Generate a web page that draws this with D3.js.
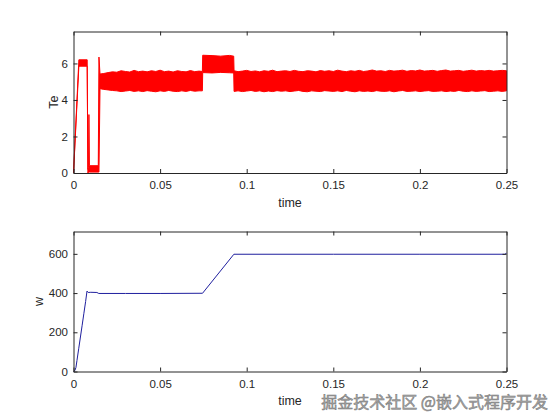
<!DOCTYPE html>
<html>
<head>
<meta charset="utf-8">
<script src="https://cdn.jsdelivr.net/npm/d3@7"></script>
<style>
  body { margin: 0; background: #fff; }
  text { font-family: "Liberation Sans", Arial, Helvetica, sans-serif; fill: #262626; }
</style>
</head>
<body>
<div id="main"></div>
<script>
'use strict';

// ---- data ----
var xTicks = [0, 0.05, 0.1, 0.15, 0.2, 0.25];
var teTicks = [0, 2, 4, 6];
var wTicks = [0, 200, 400, 600];

// Te: the red trace is a dense noisy band, kept as low / high envelope
var teTime = [0, 0.0031, 0.0079, 0.0083, 0.0087, 0.0089, 0.0092, 0.0143, 0.0147, 0.0153,
  0.0175, 0.02, 0.0225, 0.025, 0.0275, 0.03, 0.0325, 0.035, 0.0375, 0.04, 0.0425, 0.045,
  0.0475, 0.05, 0.0525, 0.055, 0.0575, 0.06, 0.0625, 0.065, 0.0675, 0.07, 0.0725, 0.0744,
  0.0746, 0.08, 0.085, 0.09, 0.0925,
  0.0927, 0.095, 0.0975, 0.1, 0.1025, 0.105, 0.1075, 0.11, 0.1125, 0.115, 0.1175, 0.12,
  0.1225, 0.125, 0.1275, 0.13, 0.1325, 0.135, 0.1375, 0.14, 0.1425, 0.145, 0.1475, 0.15,
  0.1525, 0.155, 0.1575, 0.16, 0.1625, 0.165, 0.1675, 0.17, 0.1725, 0.175, 0.1775, 0.18,
  0.1825, 0.185, 0.1875, 0.19, 0.1925, 0.195, 0.1975, 0.2, 0.2025, 0.205, 0.2075, 0.21,
  0.2125, 0.215, 0.2175, 0.22, 0.2225, 0.225, 0.2275, 0.23, 0.2325, 0.235, 0.2375, 0.24,
  0.2425, 0.245, 0.2475, 0.25];
var teLow = [0, 5.85, 5.85, 0, 0.05, 0.05, 0.05, 0.05, 0.05, 4.62,
  4.58, 4.55, 4.52, 4.5, 4.46, 4.49, 4.52, 4.47, 4.5, 4.46, 4.51, 4.48,
  4.45, 4.5, 4.47, 4.52, 4.48, 4.46, 4.5, 4.47, 4.52, 4.48, 4.5, 4.5,
  5.5, 5.48, 5.51, 5.49, 5.48,
  4.47, 4.5, 4.46, 4.49, 4.52, 4.47, 4.5, 4.45, 4.49, 4.46, 4.51, 4.48,
  4.5, 4.46, 4.49, 4.52, 4.47, 4.45, 4.5, 4.48, 4.46, 4.51, 4.49, 4.47,
  4.5, 4.46, 4.52, 4.48, 4.45, 4.5, 4.47, 4.49, 4.46, 4.51, 4.48, 4.47,
  4.5, 4.45, 4.49, 4.52, 4.47, 4.48, 4.5, 4.46, 4.49, 4.51, 4.47, 4.48,
  4.5, 4.46, 4.49, 4.47, 4.52, 4.48, 4.46, 4.5, 4.47, 4.49, 4.51, 4.46,
  4.48, 4.5, 4.47, 4.5];
var teHigh = [0, 6.2, 6.2, 0.2, 0.3, 3.2, 0.4, 0.4, 6.35, 5.42,
  5.45, 5.5, 5.54, 5.52, 5.6, 5.56, 5.53, 5.62, 5.55, 5.58, 5.54, 5.6,
  5.56, 5.63, 5.55, 5.58, 5.53, 5.6, 5.56, 5.54, 5.61, 5.55, 5.58, 5.56,
  6.45, 6.43, 6.4, 6.44, 6.4,
  5.6, 5.55, 5.58, 5.62, 5.56, 5.59, 5.54, 5.6, 5.57, 5.63, 5.55, 5.58,
  5.6, 5.56, 5.62, 5.57, 5.55, 5.6, 5.58, 5.54, 5.61, 5.57, 5.6, 5.56,
  5.63, 5.58, 5.55, 5.6, 5.57, 5.62, 5.56, 5.59, 5.64, 5.58, 5.6, 5.56,
  5.62, 5.58, 5.6, 5.63, 5.57, 5.61, 5.59, 5.64, 5.58, 5.6, 5.62, 5.57,
  5.61, 5.64, 5.58, 5.6, 5.62, 5.57, 5.6, 5.63, 5.58, 5.61, 5.59, 5.62,
  5.58, 5.6, 5.62, 5.6];

// w: speed trace
var wTime = [0, 0.0008, 0.0014, 0.002, 0.003, 0.004, 0.005, 0.006, 0.007, 0.0078,
  0.0085, 0.01, 0.0135, 0.0146, 0.03, 0.05, 0.0745, 0.0926, 0.15, 0.2, 0.249, 0.25];
var wVal = [0, 5, 20, 56, 116, 176, 236, 297, 357, 410,
  403, 404, 403, 398, 398, 398, 399, 598, 598, 598, 598, 603];

// ---- layout ----
var W = 560, H = 420;
var left = 73.5, right = 506.5;
var top1 = 31.5, bot1 = 173;
var top2 = 231.5, bot2 = 371.5;

var svg = d3.select('#main').append('svg')
  .attr('width', W).attr('height', H);
svg.append('rect').attr('width', W).attr('height', H).attr('fill', '#fff');

var x = d3.scaleLinear().domain([0, 0.25]).range([left, right]);
var yTe = d3.scaleLinear().domain([0, 7.75]).range([bot1, top1]);
var yW = d3.scaleLinear().domain([0, 714]).range([bot2, top2]);

function fmt(d) { return d === 0 ? '0' : String(d); }

// matlab-ish boxed axes with inward ticks
function drawAxes(y, ticks, top, bot, ylab, ylabX) {
  var g = svg.append('g');

  g.append('g').attr('transform', 'translate(0,' + bot + ')')
    .call(d3.axisBottom(x).tickValues(xTicks).tickFormat(fmt).tickSizeInner(-4).tickSizeOuter(0).tickPadding(8));
  g.append('g').attr('transform', 'translate(0,' + top + ')')
    .call(d3.axisTop(x).tickValues(xTicks).tickFormat('').tickSizeInner(-4).tickSizeOuter(0));
  g.append('g').attr('transform', 'translate(' + left + ',0)')
    .call(d3.axisLeft(y).tickValues(ticks).tickFormat(fmt).tickSizeInner(-4).tickSizeOuter(0).tickPadding(5.5));
  g.append('g').attr('transform', 'translate(' + right + ',0)')
    .call(d3.axisRight(y).tickValues(ticks).tickFormat('').tickSizeInner(-4).tickSizeOuter(0));

  g.selectAll('.domain').attr('stroke', '#262626');
  g.selectAll('.tick line').attr('stroke', '#262626');
  g.selectAll('.tick text').style('font-size', '11.5px').attr('fill', '#303030')
    .style('font-family', '"Liberation Sans", Arial, sans-serif');

  g.append('text')
    .attr('x', (left + right) / 2).attr('y', bot + 33.5)
    .attr('text-anchor', 'middle').style('font-size', '12.5px')
    .text('time');

  g.append('text')
    .attr('transform', 'translate(' + ylabX + ',' + (top + bot) / 2 + ') rotate(-90)')
    .attr('text-anchor', 'middle').style('font-size', '12.5px')
    .text(ylab);
}

// ---- Te plot ----
var teRows = teTime.map(function(t, i) { return { t: t, lo: teLow[i], hi: teHigh[i] }; });
var teArea = d3.area()
  .x(function(d) { return x(d.t); })
  .y0(function(d) { return yTe(d.lo); })
  .y1(function(d) { return yTe(d.hi); });

svg.append('path')
  .datum(teRows)
  .attr('d', teArea)
  .attr('fill', '#ff0000')
  .attr('stroke', '#ff0000')
  .attr('stroke-width', 1)
  .attr('stroke-linejoin', 'round');

drawAxes(yTe, teTicks, top1, bot1, 'Te', 58);

// ---- w plot ----
var wRows = wTime.map(function(t, i) { return { t: t, v: wVal[i] }; });
var wLine = d3.line()
  .x(function(d) { return x(d.t); })
  .y(function(d) { return yW(d.v); });

svg.append('path')
  .datum(wRows)
  .attr('d', wLine)
  .attr('fill', 'none')
  .attr('stroke', '#1f1f9e')
  .attr('stroke-width', 1);

drawAxes(yW, wTicks, top2, bot2, 'w', 43);

// watermark
svg.append('text')
  .attr('x', 548).attr('y', 408)
  .attr('text-anchor', 'end')
  .style('font-family', '"Noto Sans CJK SC", sans-serif')
  .style('font-size', '16px')
  .style('fill', '#a6a6a6')
  .style('stroke', '#7a7a7a')
  .style('stroke-width', 0.5)
  .text('掘金技术社区 @嵌入式程序开发');
</script>
</body>
</html>
